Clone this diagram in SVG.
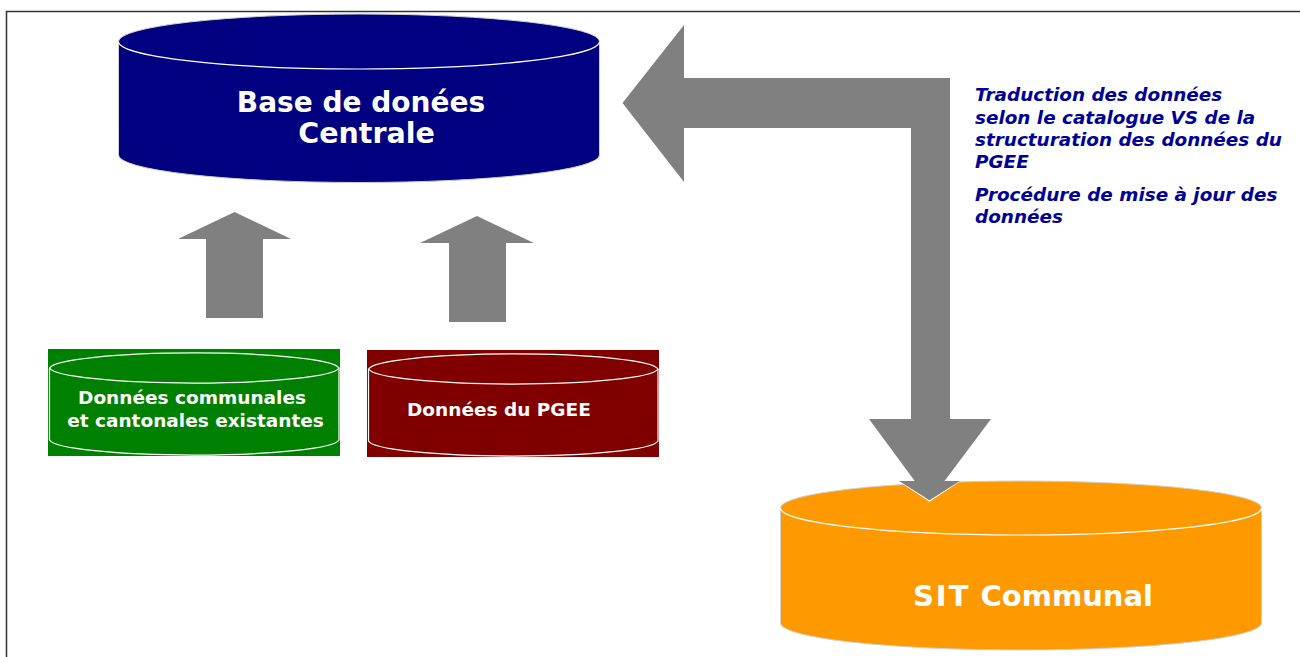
<svg xmlns="http://www.w3.org/2000/svg" width="1300" height="657" viewBox="0 0 1300 657">
<style>
.frame{fill:none;stroke:#333;stroke-width:1.5}
.arrow{fill:#808080}
.outline{fill:none;stroke:#fff;stroke-width:1.2}
.edge{stroke:#d0d0d0;stroke-width:1}
.big{font-family:"DejaVu Sans",Verdana,sans-serif;font-weight:bold;fill:#fff}
.small{font-family:"DejaVu Sans",Verdana,sans-serif;font-weight:bold;fill:#fff;font-size:18.5px}
.note{font-family:"DejaVu Sans",Verdana,sans-serif;font-weight:bold;font-style:italic;fill:#000099;font-size:18.4px}
</style>
<rect width="1300" height="657" fill="#fff"/>
<path class="frame" d="M6.5,657 V11.5 H1300"/>

<g id="connectors">
<polygon class="arrow" points="622.5,103 684,25 684,78 950,78 950,419 991,419 929.5,501 869,419 911,419 911,128 684,128 684,182"/>
<polygon class="arrow" points="234.5,212 291,239 263,239 263,318 206,318 206,239 178,239"/>
<polygon class="arrow" points="477,216 534,243 506,243 506,322 449,322 449,243 420,243"/>
</g>

<g id="base-centrale">
<path d="M118.5,41.5 A240.5,27.5 0 0 1 599.5,41.5 V155 A240.5,27.5 0 0 1 118.5,155 Z" fill="#000080" class="edge"/>
<path class="outline" d="M118.5,41.5 A240.5,27.5 0 0 0 599.5,41.5"/>
<text class="big" font-size="28" x="361" y="112" text-anchor="middle">Base de donées</text>
<text class="big" font-size="28.5" x="366.5" y="143" text-anchor="middle">Centrale</text>
</g>

<g id="donnees-communales">
<rect x="48" y="349" width="292" height="107" fill="#008000"/>
<path class="outline" d="M49.5,368 A145,16 0 0 1 339,368 V440 A145,16 0 0 1 49.5,440 Z"/>
<path class="outline" d="M49.5,368 A145,16 0 0 0 339,368"/>
<text class="small" x="192" y="404" text-anchor="middle">Données communales</text>
<text class="small" x="195.5" y="427" text-anchor="middle">et cantonales existantes</text>
</g>

<g id="donnees-pgee">
<rect x="367" y="350" width="292" height="107" fill="#800000"/>
<path class="outline" d="M368.5,369 A145,16 0 0 1 658,369 V441 A145,16 0 0 1 368.5,441 Z"/>
<path class="outline" d="M368.5,369 A145,16 0 0 0 658,369"/>
<text class="small" x="407" y="416">Données du PGEE</text>
</g>

<g id="sit-communal">
<path d="M780.5,508 A240.5,27 0 0 1 1261.5,508 V623 A240.5,27 0 0 1 780.5,623 Z" fill="#FF9900" class="edge"/>
<path class="outline" d="M780.5,508 A240.5,27 0 0 0 1261.5,508"/>
<polygon points="901,482 958,482 929.5,501" stroke="#fff" stroke-width="1.2" fill="#808080"/>
<polygon points="899,481 960,481 929.5,500" class="arrow"/>
<text class="big" font-size="29" x="1033" y="606" text-anchor="middle"><tspan letter-spacing="2">SIT</tspan> Communal</text>
</g>

<g id="note">
<text class="note" x="975" y="101">Traduction des données</text>
<text class="note" x="975" y="124">selon le catalogue VS de la</text>
<text class="note" x="975" y="146">structuration des données du</text>
<text class="note" x="975" y="168">PGEE</text>
<text class="note" x="975" y="201">Procédure de mise à jour des</text>
<text class="note" x="975" y="223">données</text>
</g>
</svg>
